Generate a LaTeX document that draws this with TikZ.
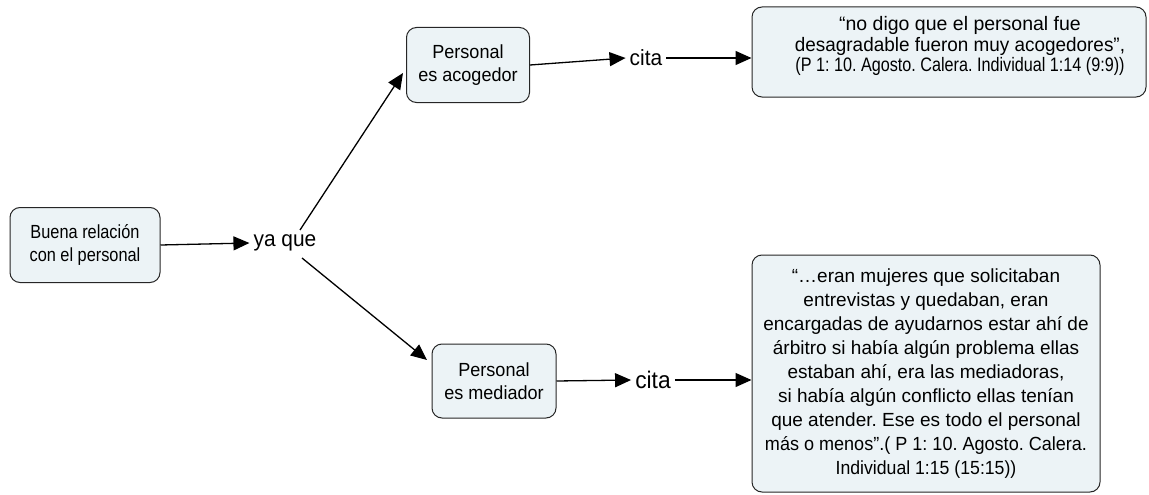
\documentclass[tikz,border=0pt]{standalone}
\usepackage{fontspec}
\setmainfont{Liberation Sans}
\newfontfamily\narrowA[FakeStretch=0.86]{Liberation Sans}
\newfontfamily\narrowB[FakeStretch=0.95]{Liberation Sans}
\newfontfamily\narrowC[FakeStretch=0.83]{Liberation Sans}
\usetikzlibrary{arrows.meta}
\frenchspacing
\begin{document}
\begin{tikzpicture}[x=1pt,y=-1pt,
  concept/.style={draw=black!85,line width=1pt,rounded corners=10pt,fill={rgb,255:red,236;green,243;blue,246},align=center},
  linkword/.style={inner xsep=4pt,inner ysep=1pt},
  conn/.style={line width=1.3pt,-{Triangle[length=16pt,width=14pt]}}]
\useasboundingbox (0,0) rectangle (1149,495);
\node[concept,minimum width=150pt,minimum height=75pt,font=\narrowA\fontsize{19}{23}\selectfont] (buena) at (85,245) {Buena relación\\con el personal};
\node[linkword,font=\narrowB\fontsize{22}{24}\selectfont] (yaque) at (285,243) {ya que};
\node[concept,minimum width=123pt,minimum height=75pt,font=\narrowB\fontsize{19}{23}\selectfont] (acog) at (468,65) {Personal\\es acogedor};
\node[linkword,font=\narrowB\fontsize{22}{24}\selectfont] (cita1) at (646,58) {cita};
\node[concept,minimum width=394pt,minimum height=90pt,
  label={[align=center,xshift=11pt,yshift=6pt,font=\fontsize{19.5}{20.5}\selectfont]center:“no digo que el personal fue\\{\fontspec[FakeStretch=0.97]{Liberation Sans}desagradable fueron muy acogedores”,}\\{\narrowC(P 1: 10. Agosto. Calera. Individual 1:14 (9:9))}}] (q1) at (949,52) {};
\node[concept,minimum width=124pt,minimum height=74pt,font=\narrowB\fontsize{19}{23}\selectfont] (medi) at (494,381) {Personal\\es mediador};
\node[linkword,font=\narrowB\fontsize{24}{26}\selectfont] (cita2) at (653,380) {cita};
\node[concept,minimum width=348pt,minimum height=237pt,font=\fontsize{19}{24}\selectfont] (q2) at (926,373.5) {“…eran mujeres que solicitaban\\entrevistas y quedaban, eran\\encargadas de ayudarnos estar ahí de\\árbitro si había algún problema ellas\\estaban ahí, era las mediadoras,\\si había algún conflicto ellas tenían\\que atender. Ese es todo el personal\\{\narrowB más o menos”.( P 1: 10. Agosto. Calera.}\\{\fontspec[FakeStretch=0.93]{Liberation Sans}Individual 1:15 (15:15))}};
\coordinate (up0) at (300,230);
\coordinate (up1) at (403,73);
\coordinate (dn0) at (302,258);
\coordinate (dn1) at (427,360);
\draw[conn] (buena.east) -- (yaque.west);
\draw[conn] (up0) -- (up1);
\draw[conn] (dn0) -- (dn1);
\draw[conn] (acog.east) -- (cita1.west);
\draw[conn] (cita1.east) -- (q1.west|-cita1.east);
\draw[conn] (medi.east) -- (cita2.west);
\draw[conn] (cita2.east) -- (q2.west|-cita2.east);
\end{tikzpicture}
\end{document}
